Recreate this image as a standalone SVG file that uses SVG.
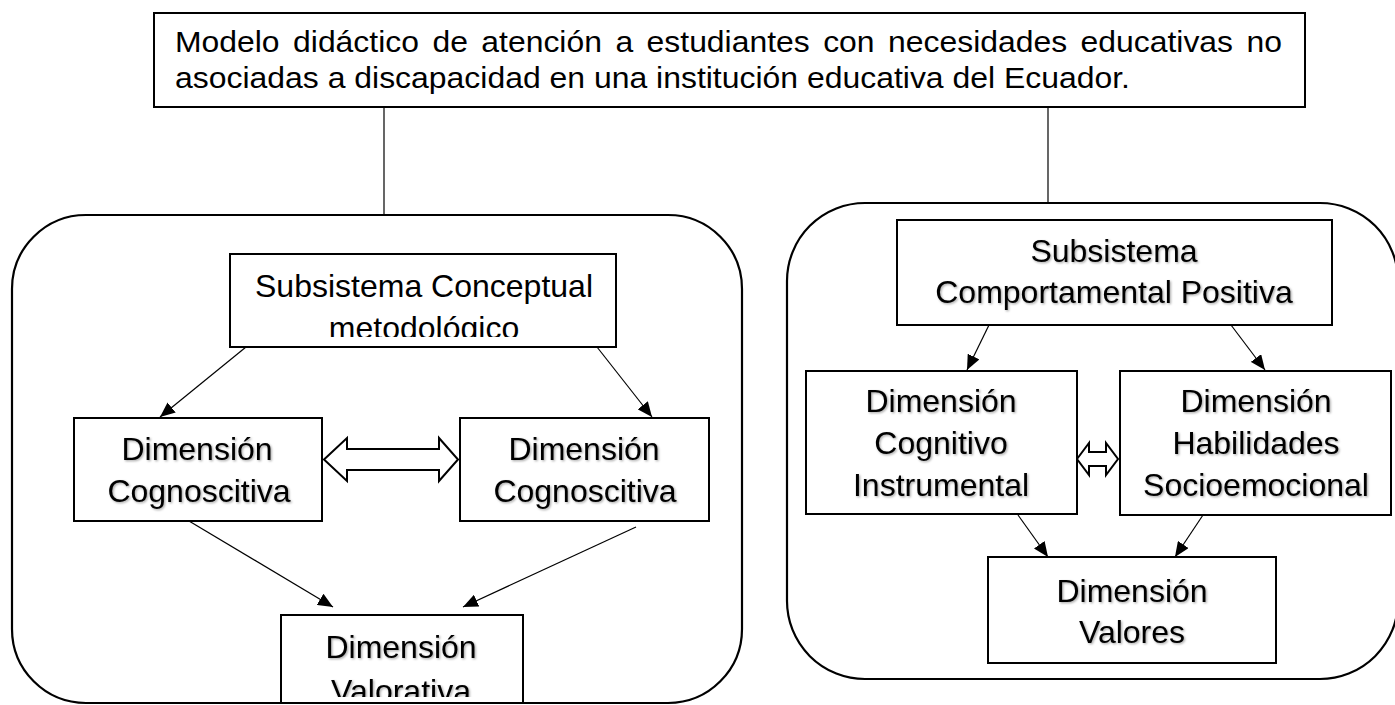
<svg xmlns="http://www.w3.org/2000/svg" width="1395" height="705" viewBox="0 0 1395 705">
<style>
.box{fill:#fff;stroke:#000;stroke-width:2}
.frame{fill:none;stroke:#000;stroke-width:2.2}
.ln{stroke:#000;stroke-width:1.2;fill:none}
.arr{stroke:#000;stroke-width:1.2;fill:none;marker-end:url(#ah)}
.dbl{fill:#fff;stroke:#000;stroke-width:2;stroke-linejoin:miter}
text{font-family:"Liberation Sans",Arial,sans-serif;fill:#000}
.t{font-size:32px;text-anchor:middle}
.h{font-size:29px}
.sh{filter:url(#shadow)}
</style>
<defs>
<marker id="ah" markerUnits="userSpaceOnUse" markerWidth="15" markerHeight="13" refX="15" refY="6.5" orient="auto">
<path d="M0,0 L15,6.5 L0,13 Z" fill="#000"/>
</marker>
<filter id="shadow" x="-10%" y="-20%" width="120%" height="150%">
<feDropShadow dx="1.2" dy="1.2" stdDeviation="1" flood-color="#000" flood-opacity="0.35"/>
</filter>
<clipPath id="clipConc"><rect x="230" y="254" width="386" height="83"/></clipPath>
<clipPath id="clipVal"><rect x="281" y="616" width="241" height="81"/></clipPath>
</defs>

<g id="frames">
<rect class="frame" x="12" y="215" width="730" height="488" rx="74" ry="74"/>
<rect class="frame" x="787" y="203" width="611" height="476" rx="78" ry="78"/>
</g>

<g id="connectors">
<line class="ln" x1="384" y1="107" x2="384" y2="215"/>
<line class="ln" x1="1048" y1="107" x2="1048" y2="203"/>
<line class="arr" x1="246" y1="347" x2="160" y2="417"/>
<line class="arr" x1="597" y1="347" x2="652" y2="417"/>
<line class="arr" x1="189" y1="521" x2="333" y2="607"/>
<line class="arr" x1="636" y1="527" x2="463" y2="607"/>
<line class="arr" x1="989" y1="325" x2="967" y2="370"/>
<line class="arr" x1="1231" y1="325" x2="1265" y2="370"/>
<line class="arr" x1="1018" y1="515" x2="1048" y2="557"/>
<line class="arr" x1="1203" y1="515" x2="1175" y2="557"/>
<polygon class="dbl" points="324,459.5 347,438 347,449 439,449 439,438 458,459.5 439,481 439,470 347,470 347,481"/>
<polygon class="dbl" points="1077,459 1089,443 1089,452 1106,452 1106,443 1118,459 1106,475 1106,466 1089,466 1089,475"/>
</g>

<g id="node-title">
<rect class="box" x="154" y="13" width="1151" height="94"/>
<text class="h" x="175" y="52" word-spacing="4.2" textLength="1107" lengthAdjust="spacingAndGlyphs">Modelo didáctico de atención a estudiantes con necesidades educativas no</text>
<text class="h" x="175" y="88" textLength="955" lengthAdjust="spacingAndGlyphs">asociadas a discapacidad en una institución educativa del Ecuador.</text>
</g>

<g id="node-conceptual">
<rect class="box" x="230" y="254" width="386" height="93"/>
<g clip-path="url(#clipConc)">
<text class="t" x="424" y="297">Subsistema Conceptual</text>
<text class="t" x="424" y="339">metodológico</text>
</g>
</g>

<g id="node-cognoscitiva-1">
<rect class="box" x="74" y="418" width="248" height="103"/>
<text class="t sh" x="197" y="460">Dimensión</text>
<text class="t sh" x="199" y="502">Cognoscitiva</text>
</g>

<g id="node-cognoscitiva-2">
<rect class="box" x="460" y="418" width="249" height="103"/>
<text class="t sh" x="584" y="460">Dimensión</text>
<text class="t sh" x="585" y="502">Cognoscitiva</text>
</g>

<g id="node-valorativa">
<rect class="box" x="281" y="615" width="242" height="88"/>
<g clip-path="url(#clipVal)">
<text class="t sh" x="401" y="658">Dimensión</text>
<text class="t sh" x="401" y="702">Valorativa</text>
</g>
</g>

<g id="node-comportamental">
<rect class="box" x="897" y="220" width="435" height="105"/>
<text class="t sh" x="1114" y="262">Subsistema</text>
<text class="t sh" x="1114" y="303">Comportamental Positiva</text>
</g>

<g id="node-cognitivo">
<rect class="box" x="806" y="371" width="271" height="143"/>
<text class="t sh" x="941" y="412">Dimensión</text>
<text class="t sh" x="941" y="454">Cognitivo</text>
<text class="t sh" x="941" y="496">Instrumental</text>
</g>

<g id="node-habilidades">
<rect class="box" x="1120" y="371" width="271" height="144"/>
<text class="t sh" x="1256" y="412">Dimensión</text>
<text class="t sh" x="1256" y="454">Habilidades</text>
<text class="t sh" x="1256" y="496">Socioemocional</text>
</g>

<g id="node-valores">
<rect class="box" x="988" y="557" width="288" height="106"/>
<text class="t sh" x="1132" y="602">Dimensión</text>
<text class="t sh" x="1132" y="643">Valores</text>
</g>
</svg>
